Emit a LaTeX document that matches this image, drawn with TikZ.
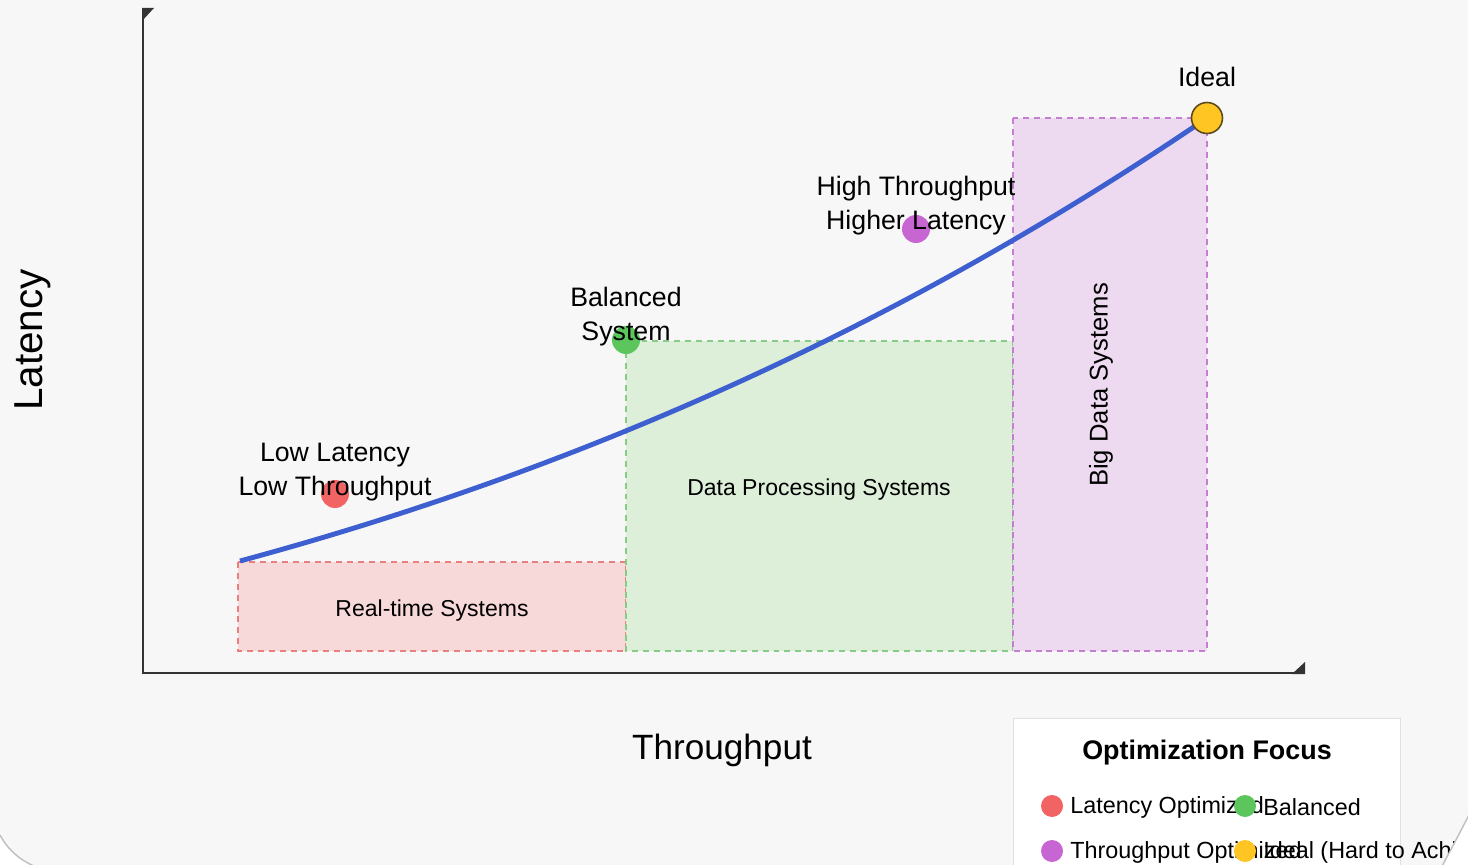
\documentclass[tikz,border=0pt]{standalone}
\usepackage{fontspec}
\setmainfont{Liberation Sans}
\usetikzlibrary{positioning}
\definecolor{bggray}{HTML}{F7F7F7}
\definecolor{axisgray}{HTML}{333333}
\definecolor{rtfill}{HTML}{F8D9D9}
\definecolor{rtline}{HTML}{E88080}
\definecolor{dpfill}{HTML}{DDEFD9}
\definecolor{dpline}{HTML}{86CC86}
\definecolor{bdfill}{HTML}{EEDAF0}
\definecolor{bdline}{HTML}{C47FD0}
\definecolor{trendblue}{HTML}{3D5FCF}
\definecolor{latred}{HTML}{F26464}
\definecolor{balgreen}{HTML}{5CC65C}
\definecolor{thrpurple}{HTML}{C765D3}
\definecolor{idealyellow}{HTML}{FFC623}
\definecolor{idealedge}{HTML}{5A4A20}
\tikzset{%
  zone/.style={%
    dashed,
    dash pattern=on 3.4pt off 2.8pt,
    line width=0.9pt
  },
  dotnode/.style={%
    circle,
    inner sep=0pt,
    minimum size=0.56cm
  },
  keydot/.style={%
    circle,
    inner sep=0pt,
    minimum size=0.44cm
  },
  ptlabel/.style={%
    align=center,
    inner sep=0pt,
    font=\fontsize{15.2}{19.3}\selectfont
  },
  zonelabel/.style={%
    inner sep=0pt,
    font=\fontsize{13.1}{16}\selectfont
  },
  keylabel/.style={%
    anchor=west,
    inner sep=0pt,
    font=\fontsize{13.3}{16}\selectfont
  },
  axislabel/.style={%
    inner sep=0pt,
    font=\fontsize{20}{24}\selectfont
  }
}

\begin{document}
\begin{tikzpicture}[x=0.02cm, y=-0.02cm]
  \useasboundingbox (0,0) rectangle (1468,865);
  \clip (0,0) rectangle (1468,865);
  \fill[bggray] (0,0) rectangle (1468,865);

  % zones
  \draw[zone, fill=rtfill, draw=rtline] (238,562) rectangle (626,651);
  \draw[zone, fill=dpfill, draw=dpline] (626,341) rectangle (1013,651);
  \draw[zone, fill=bdfill, draw=bdline] (1013,118) rectangle (1207,651);
  \node[zonelabel] (rtlbl) at (432,611) {Real-time Systems};
  \node[zonelabel] (dplbl) at (819,490) {Data Processing Systems};
  \node[zonelabel, rotate=90, font=\fontsize{14.6}{17}\selectfont]
    (bdlbl) at (1101,385) {Big Data Systems};

  % axes
  \coordinate (ytop) at (143,10);
  \coordinate (origin) at (143,673);
  \coordinate (xend) at (1303,673);
  \draw[axisgray, line width=1.7pt] (ytop) -- (origin) -- (xend);
  \fill[axisgray] (142,8) -- (154,8) -- (142,21) -- cycle;
  \fill[axisgray] (1305,674) -- (1305,662) -- (1292,674) -- cycle;
  \node[axislabel, rotate=90, font=\fontsize{23}{27}\selectfont]
    (ylbl) at (33,340) {Latency};
  \node[axislabel] (xlbl) at (722,750) {Throughput};

  % trade-off curve
  \coordinate (ideal) at (1207,118);
  \coordinate (cstart) at (240,561);
  \draw[trendblue, line width=2.8pt] (cstart)
    .. controls (562,474) and (885,337) .. (ideal);
  \node[dotnode, fill=idealyellow, draw=idealedge, line width=0.9pt,
        minimum size=0.62cm] (idealdot) at (ideal) {};

  % points
  \node[dotnode, fill=latred]    (lowlat) at (335,494) {};
  \node[dotnode, fill=balgreen]  (bal)    at (626,340) {};
  \node[dotnode, fill=thrpurple] (highth) at (916,229) {};
  \node[ptlabel] (lowlatlbl) at (335,472) {Low Latency\\Low Throughput};
  \node[ptlabel] (ballbl)    at (626,317) {Balanced\\System};
  \node[ptlabel] (highthlbl) at (916,206) {High Throughput\\Higher Latency};
  \node[ptlabel] (ideallbl)  at (1207,77) {Ideal};

  % legend
  \draw[draw=black!12, fill=white] (1013,718) rectangle (1400,880);
  \node[inner sep=0pt, font=\fontsize{15.3}{18}\selectfont\bfseries]
    (keytitle) at (1207,753) {Optimization Focus};
  \node[keydot, fill=latred] (k1) at (1052,806) {};
  \node[keylabel] (k1lbl) at (1070,807) {Latency Optimized};
  \node[keydot, fill=balgreen] (k2) at (1245,806) {};
  \node[keylabel] (k2lbl) at (1263,807) {Balanced};
  \node[keydot, fill=thrpurple] (k3) at (1052,851) {};
  \node[keylabel] (k3lbl) at (1070,852) {Throughput Optimized};
  \node[keydot, fill=idealyellow] (k4) at (1245,851) {};
  \node[keylabel] (k4lbl) at (1263,852) {Ideal (Hard to Achieve)};

  % window corners
  \fill[white] (0,835) .. controls (8,850) and (20,860) .. (34,866)
    -- (0,866) -- cycle;
  \draw[black!25, line width=0.8pt] (0,835) .. controls (8,850) and (20,860) .. (34,866);
  \fill[white] (1442,866) .. controls (1452,848) and (1460,832) .. (1469,815)
    -- (1469,866) -- cycle;
  \draw[black!25, line width=0.8pt] (1442,866) .. controls (1452,848) and (1460,832) .. (1469,815);
\end{tikzpicture}
\end{document}
